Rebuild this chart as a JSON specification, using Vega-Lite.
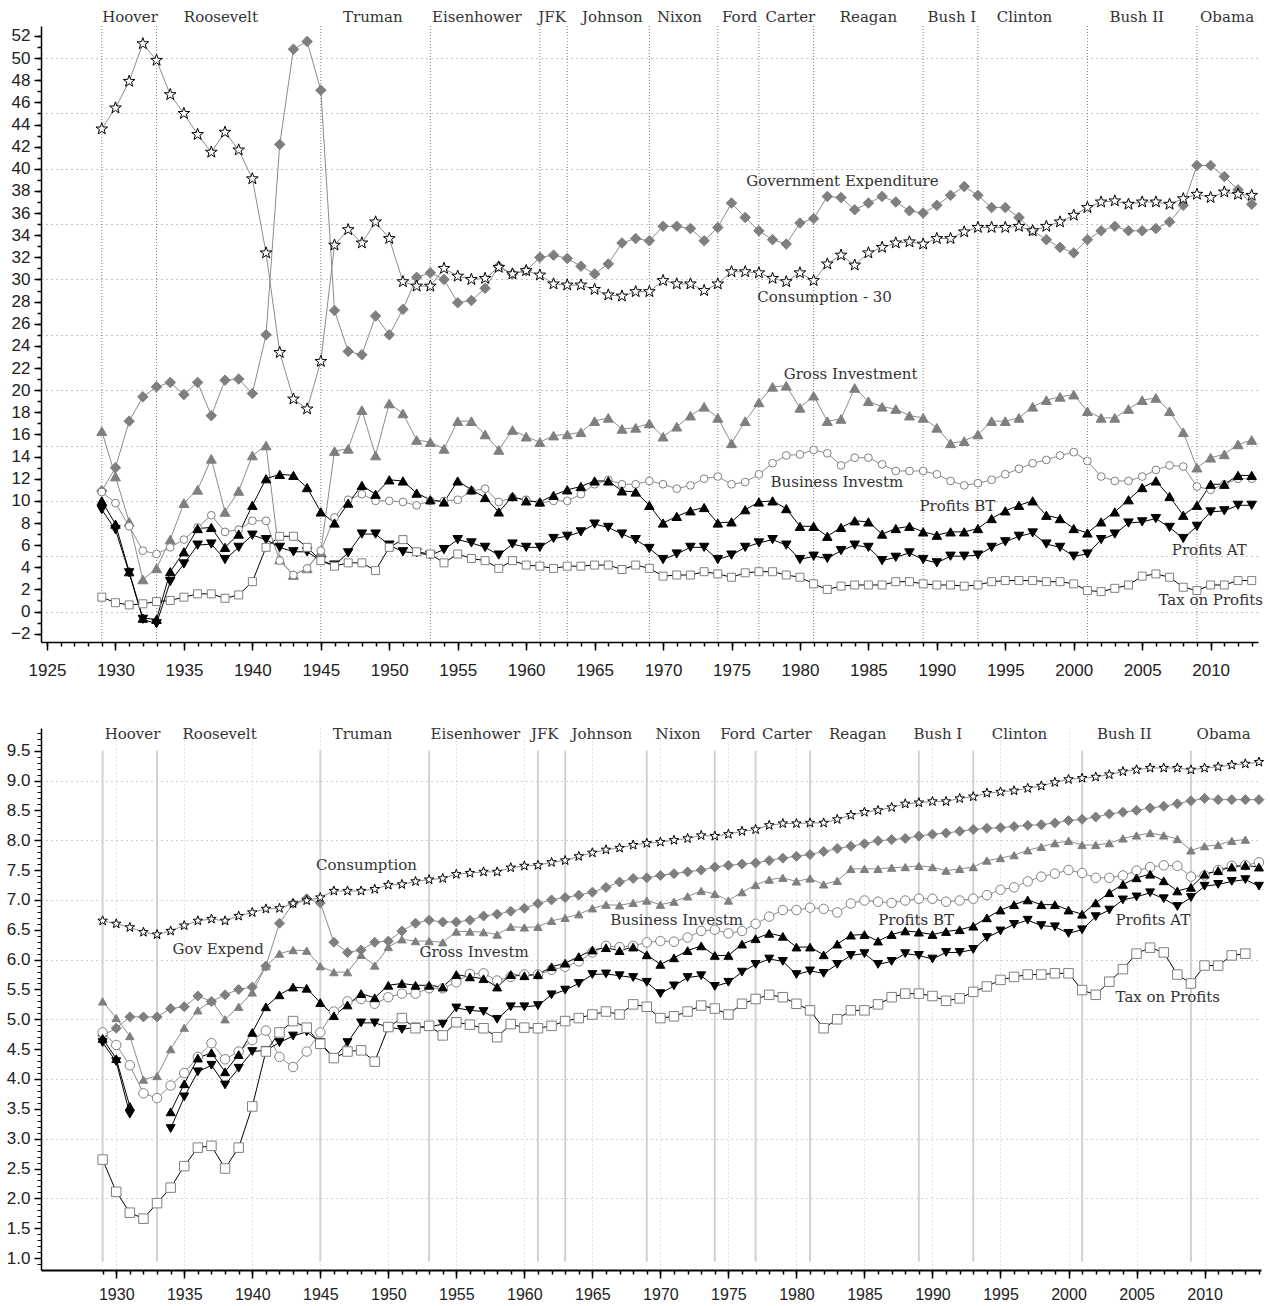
{
"$schema":"https://vega.github.io/schema/vega-lite/v6.json",
"padding":{"left":6,"top":10,"right":2,"bottom":0},
"background":"white",
"config":{"view":{"stroke":null},"axis":{"labelFont":"Liberation Sans","labelFontSize":17,"labelColor":"#222","domainColor":"#000","tickColor":"#000","grid":false}},
"datasets":{
"pres":[{"yr":1929},{"yr":1933},{"yr":1945},{"yr":1953},{"yr":1961},{"yr":1963},{"yr":1969},{"yr":1974},{"yr":1977},{"yr":1981},{"yr":1989},{"yr":1993},{"yr":2001},{"yr":2009}],
"ptop":[{"n":"Hoover","yr":1931.06,"v":53.7},{"n":"Roosevelt","yr":1937.7,"v":53.7},{"n":"Truman","yr":1948.8,"v":53.7},{"n":"Eisenhower","yr":1956.4,"v":53.7},{"n":"JFK","yr":1961.9,"v":53.7},{"n":"Johnson","yr":1966.3,"v":53.7},{"n":"Nixon","yr":1971.2,"v":53.7},{"n":"Ford","yr":1975.6,"v":53.7},{"n":"Carter","yr":1979.3,"v":53.7},{"n":"Reagan","yr":1985.0,"v":53.7},{"n":"Bush I","yr":1991.1,"v":53.7},{"n":"Clinton","yr":1996.4,"v":53.7},{"n":"Bush II","yr":2004.6,"v":53.7},{"n":"Obama","yr":2011.2,"v":53.7}],
"pbot":[{"n":"Hoover","yr":1931.2,"v":9.78},{"n":"Roosevelt","yr":1937.6,"v":9.78},{"n":"Truman","yr":1948.1,"v":9.78},{"n":"Eisenhower","yr":1956.4,"v":9.78},{"n":"JFK","yr":1961.5,"v":9.78},{"n":"Johnson","yr":1965.7,"v":9.78},{"n":"Nixon","yr":1971.3,"v":9.78},{"n":"Ford","yr":1975.7,"v":9.78},{"n":"Carter","yr":1979.3,"v":9.78},{"n":"Reagan","yr":1984.5,"v":9.78},{"n":"Bush I","yr":1990.4,"v":9.78},{"n":"Clinton","yr":1996.4,"v":9.78},{"n":"Bush II","yr":2004.1,"v":9.78},{"n":"Obama","yr":2011.4,"v":9.78}],
"ltop":[{"t":"Government Expenditure","yr":1983.1,"v":38.9},{"t":"Consumption - 30","yr":1981.8,"v":28.45},{"t":"Gross Investment","yr":1983.7,"v":21.5},{"t":"Business Investm","yr":1982.7,"v":11.7},{"t":"Profits BT","yr":1991.5,"v":9.5},{"t":"Profits AT","yr":2009.9,"v":5.6},{"t":"Tax on Profits","yr":2010.0,"v":1.0}],
"lbot":[{"t":"Consumption","yr":1948.4,"v":7.58},{"t":"Gov Expend","yr":1937.5,"v":6.17},{"t":"Gross Investm","yr":1956.3,"v":6.12},{"t":"Business Investm","yr":1971.2,"v":6.67},{"t":"Profits BT","yr":1988.8,"v":6.67},{"t":"Profits AT","yr":2006.2,"v":6.67},{"t":"Tax on Profits","yr":2007.3,"v":5.37}],
"top":[
{"yr":1929,"GE":10.9,"C":43.6,"GI":16.3,"BI":10.8,"PBT":10.0,"PAT":9.2,"TAX":1.3},
{"yr":1930,"GE":13.0,"C":45.5,"GI":12.2,"BI":9.8,"PBT":7.9,"PAT":7.4,"TAX":0.8},
{"yr":1931,"GE":17.2,"C":47.9,"GI":8.1,"BI":7.7,"PBT":3.6,"PAT":3.5,"TAX":0.6},
{"yr":1932,"GE":19.4,"C":51.3,"GI":2.9,"BI":5.5,"PBT":-0.6,"PAT":-0.7,"TAX":0.7},
{"yr":1933,"GE":20.3,"C":49.8,"GI":3.9,"BI":5.2,"PBT":-0.7,"PAT":-1.1,"TAX":0.9},
{"yr":1934,"GE":20.7,"C":46.7,"GI":6.5,"BI":5.8,"PBT":3.6,"PAT":2.7,"TAX":1.0},
{"yr":1935,"GE":19.6,"C":45.0,"GI":9.8,"BI":6.5,"PBT":5.4,"PAT":4.3,"TAX":1.3},
{"yr":1936,"GE":20.7,"C":43.1,"GI":11.0,"BI":7.6,"PBT":7.5,"PAT":6.0,"TAX":1.6},
{"yr":1937,"GE":17.7,"C":41.5,"GI":13.8,"BI":8.7,"PBT":7.6,"PAT":6.1,"TAX":1.6},
{"yr":1938,"GE":20.9,"C":43.3,"GI":9.0,"BI":7.2,"PBT":5.8,"PAT":4.7,"TAX":1.2},
{"yr":1939,"GE":21.0,"C":41.7,"GI":10.9,"BI":7.4,"PBT":7.0,"PAT":5.8,"TAX":1.5},
{"yr":1940,"GE":19.7,"C":39.1,"GI":14.1,"BI":8.2,"PBT":9.6,"PAT":6.9,"TAX":2.7},
{"yr":1941,"GE":25.0,"C":32.4,"GI":15.0,"BI":8.2,"PBT":12.0,"PAT":6.5,"TAX":5.8},
{"yr":1942,"GE":42.2,"C":23.4,"GI":4.7,"BI":4.6,"PBT":12.4,"PAT":5.8,"TAX":6.8},
{"yr":1943,"GE":50.8,"C":19.2,"GI":3.3,"BI":3.3,"PBT":12.3,"PAT":5.4,"TAX":6.8},
{"yr":1944,"GE":51.5,"C":18.3,"GI":3.9,"BI":3.9,"PBT":11.2,"PAT":5.4,"TAX":5.8},
{"yr":1945,"GE":47.1,"C":22.6,"GI":5.4,"BI":5.5,"PBT":9.0,"PAT":4.6,"TAX":4.6},
{"yr":1946,"GE":27.2,"C":33.1,"GI":14.5,"BI":8.5,"PBT":8.0,"PAT":4.2,"TAX":4.1},
{"yr":1947,"GE":23.5,"C":34.5,"GI":14.7,"BI":10.1,"PBT":9.8,"PAT":5.3,"TAX":4.4},
{"yr":1948,"GE":23.2,"C":33.3,"GI":18.2,"BI":10.6,"PBT":11.4,"PAT":7.0,"TAX":4.4},
{"yr":1949,"GE":26.7,"C":35.2,"GI":14.1,"BI":10.0,"PBT":10.6,"PAT":7.0,"TAX":3.7},
{"yr":1950,"GE":25.0,"C":33.7,"GI":18.8,"BI":10.0,"PBT":11.9,"PAT":6.0,"TAX":5.8},
{"yr":1951,"GE":27.3,"C":29.8,"GI":17.9,"BI":9.9,"PBT":11.8,"PAT":5.4,"TAX":6.5},
{"yr":1952,"GE":30.2,"C":29.4,"GI":15.5,"BI":9.6,"PBT":10.7,"PAT":5.3,"TAX":5.4},
{"yr":1953,"GE":30.6,"C":29.4,"GI":15.3,"BI":10.0,"PBT":10.1,"PAT":5.1,"TAX":5.2},
{"yr":1954,"GE":30.0,"C":31.0,"GI":14.7,"BI":10.0,"PBT":9.9,"PAT":5.6,"TAX":4.4},
{"yr":1955,"GE":27.9,"C":30.3,"GI":17.2,"BI":10.1,"PBT":11.8,"PAT":6.5,"TAX":5.2},
{"yr":1956,"GE":28.1,"C":30.0,"GI":17.2,"BI":10.9,"PBT":11.0,"PAT":6.2,"TAX":4.8},
{"yr":1957,"GE":29.2,"C":30.1,"GI":16.0,"BI":11.1,"PBT":10.3,"PAT":5.8,"TAX":4.6},
{"yr":1958,"GE":31.2,"C":31.1,"GI":14.6,"BI":9.9,"PBT":9.0,"PAT":5.1,"TAX":3.9},
{"yr":1959,"GE":30.5,"C":30.5,"GI":16.4,"BI":10.3,"PBT":10.4,"PAT":6.1,"TAX":4.6},
{"yr":1960,"GE":30.8,"C":30.8,"GI":15.8,"BI":10.1,"PBT":10.0,"PAT":5.8,"TAX":4.2},
{"yr":1961,"GE":32.0,"C":30.4,"GI":15.3,"BI":9.8,"PBT":9.9,"PAT":5.8,"TAX":4.1},
{"yr":1962,"GE":32.2,"C":29.6,"GI":15.9,"BI":10.0,"PBT":10.5,"PAT":6.6,"TAX":3.9},
{"yr":1963,"GE":31.9,"C":29.5,"GI":16.0,"BI":10.0,"PBT":11.0,"PAT":6.8,"TAX":4.1},
{"yr":1964,"GE":31.2,"C":29.5,"GI":16.2,"BI":10.6,"PBT":11.3,"PAT":7.2,"TAX":4.1},
{"yr":1965,"GE":30.5,"C":29.1,"GI":17.2,"BI":11.5,"PBT":11.8,"PAT":7.9,"TAX":4.2},
{"yr":1966,"GE":31.4,"C":28.6,"GI":17.5,"BI":11.9,"PBT":11.8,"PAT":7.6,"TAX":4.2},
{"yr":1967,"GE":33.3,"C":28.5,"GI":16.5,"BI":11.5,"PBT":10.9,"PAT":7.0,"TAX":3.8},
{"yr":1968,"GE":33.7,"C":28.9,"GI":16.6,"BI":11.5,"PBT":10.8,"PAT":6.5,"TAX":4.2},
{"yr":1969,"GE":33.5,"C":28.9,"GI":17.0,"BI":11.8,"PBT":9.6,"PAT":5.7,"TAX":3.9},
{"yr":1970,"GE":34.8,"C":29.9,"GI":15.8,"BI":11.5,"PBT":8.0,"PAT":4.7,"TAX":3.2},
{"yr":1971,"GE":34.8,"C":29.6,"GI":16.7,"BI":11.1,"PBT":8.6,"PAT":5.2,"TAX":3.3},
{"yr":1972,"GE":34.6,"C":29.6,"GI":17.7,"BI":11.4,"PBT":9.1,"PAT":5.8,"TAX":3.3},
{"yr":1973,"GE":33.5,"C":29.0,"GI":18.5,"BI":12.0,"PBT":9.4,"PAT":5.8,"TAX":3.6},
{"yr":1974,"GE":34.7,"C":29.6,"GI":17.5,"BI":12.2,"PBT":8.0,"PAT":4.7,"TAX":3.4},
{"yr":1975,"GE":36.9,"C":30.7,"GI":15.2,"BI":11.5,"PBT":8.1,"PAT":5.1,"TAX":3.1},
{"yr":1976,"GE":35.6,"C":30.7,"GI":17.2,"BI":11.7,"PBT":9.2,"PAT":5.8,"TAX":3.5},
{"yr":1977,"GE":34.4,"C":30.6,"GI":18.9,"BI":12.4,"PBT":9.9,"PAT":6.2,"TAX":3.6},
{"yr":1978,"GE":33.6,"C":30.1,"GI":20.3,"BI":13.4,"PBT":10.0,"PAT":6.5,"TAX":3.6},
{"yr":1979,"GE":33.2,"C":29.8,"GI":20.4,"BI":14.1,"PBT":9.3,"PAT":6.0,"TAX":3.3},
{"yr":1980,"GE":35.1,"C":30.6,"GI":18.4,"BI":14.2,"PBT":7.7,"PAT":4.7,"TAX":3.1},
{"yr":1981,"GE":35.5,"C":29.9,"GI":19.5,"BI":14.6,"PBT":7.7,"PAT":5.0,"TAX":2.5},
{"yr":1982,"GE":37.5,"C":31.4,"GI":17.2,"BI":14.3,"PBT":6.8,"PAT":4.8,"TAX":2.0},
{"yr":1983,"GE":37.4,"C":32.2,"GI":17.4,"BI":13.2,"PBT":7.6,"PAT":5.5,"TAX":2.3},
{"yr":1984,"GE":36.3,"C":31.3,"GI":20.2,"BI":13.9,"PBT":8.2,"PAT":6.0,"TAX":2.4},
{"yr":1985,"GE":36.9,"C":32.4,"GI":19.0,"BI":13.9,"PBT":8.1,"PAT":5.8,"TAX":2.4},
{"yr":1986,"GE":37.5,"C":32.9,"GI":18.5,"BI":13.3,"PBT":7.0,"PAT":4.6,"TAX":2.4},
{"yr":1987,"GE":37.0,"C":33.3,"GI":18.3,"BI":12.7,"PBT":7.5,"PAT":4.9,"TAX":2.7},
{"yr":1988,"GE":36.2,"C":33.4,"GI":17.7,"BI":12.7,"PBT":7.7,"PAT":5.3,"TAX":2.7},
{"yr":1989,"GE":36.0,"C":33.2,"GI":17.5,"BI":12.7,"PBT":7.2,"PAT":4.7,"TAX":2.5},
{"yr":1990,"GE":36.7,"C":33.7,"GI":16.6,"BI":12.4,"PBT":6.9,"PAT":4.4,"TAX":2.4},
{"yr":1991,"GE":37.6,"C":33.7,"GI":15.2,"BI":11.8,"PBT":7.2,"PAT":5.0,"TAX":2.4},
{"yr":1992,"GE":38.4,"C":34.3,"GI":15.4,"BI":11.4,"PBT":7.2,"PAT":5.0,"TAX":2.3},
{"yr":1993,"GE":37.6,"C":34.7,"GI":16.0,"BI":11.6,"PBT":7.5,"PAT":5.1,"TAX":2.4},
{"yr":1994,"GE":36.5,"C":34.7,"GI":17.2,"BI":11.9,"PBT":8.4,"PAT":5.8,"TAX":2.7},
{"yr":1995,"GE":36.5,"C":34.7,"GI":17.2,"BI":12.4,"PBT":9.1,"PAT":6.3,"TAX":2.8},
{"yr":1996,"GE":35.6,"C":34.8,"GI":17.5,"BI":12.9,"PBT":9.6,"PAT":6.8,"TAX":2.8},
{"yr":1997,"GE":34.4,"C":34.4,"GI":18.5,"BI":13.4,"PBT":10.0,"PAT":7.1,"TAX":2.8},
{"yr":1998,"GE":33.6,"C":34.8,"GI":19.1,"BI":13.7,"PBT":8.7,"PAT":6.1,"TAX":2.7},
{"yr":1999,"GE":32.9,"C":35.2,"GI":19.4,"BI":14.1,"PBT":8.4,"PAT":5.8,"TAX":2.7},
{"yr":2000,"GE":32.4,"C":35.8,"GI":19.6,"BI":14.4,"PBT":7.5,"PAT":5.0,"TAX":2.5},
{"yr":2001,"GE":33.6,"C":36.5,"GI":18.1,"BI":13.6,"PBT":7.1,"PAT":5.2,"TAX":1.9},
{"yr":2002,"GE":34.4,"C":37.0,"GI":17.5,"BI":12.2,"PBT":8.1,"PAT":6.5,"TAX":1.8},
{"yr":2003,"GE":34.8,"C":37.1,"GI":17.5,"BI":11.8,"PBT":9.0,"PAT":7.0,"TAX":2.1},
{"yr":2004,"GE":34.4,"C":36.8,"GI":18.3,"BI":11.8,"PBT":10.1,"PAT":8.0,"TAX":2.4},
{"yr":2005,"GE":34.4,"C":37.0,"GI":19.1,"BI":12.2,"PBT":11.2,"PAT":8.1,"TAX":3.2},
{"yr":2006,"GE":34.6,"C":37.0,"GI":19.3,"BI":12.8,"PBT":11.8,"PAT":8.4,"TAX":3.4},
{"yr":2007,"GE":35.2,"C":36.8,"GI":18.1,"BI":13.2,"PBT":10.4,"PAT":7.6,"TAX":3.1},
{"yr":2008,"GE":36.7,"C":37.3,"GI":16.2,"BI":13.1,"PBT":8.7,"PAT":6.6,"TAX":2.2},
{"yr":2009,"GE":40.3,"C":37.7,"GI":13.0,"BI":11.3,"PBT":9.6,"PAT":7.7,"TAX":1.9},
{"yr":2010,"GE":40.3,"C":37.4,"GI":13.9,"BI":11.0,"PBT":11.5,"PAT":9.0,"TAX":2.4},
{"yr":2011,"GE":39.3,"C":37.9,"GI":14.2,"BI":11.5,"PBT":11.5,"PAT":9.1,"TAX":2.4},
{"yr":2012,"GE":38.1,"C":37.7,"GI":15.1,"BI":12.0,"PBT":12.3,"PAT":9.6,"TAX":2.8},
{"yr":2013,"GE":36.8,"C":37.6,"GI":15.5,"BI":12.0,"PBT":12.3,"PAT":9.6,"TAX":2.8}
],
"bot":[
{"yr":1929,"C":6.65,"GE":4.73,"GI":5.30,"BI":4.78,"PBT":4.68,"PAT":4.61,"TAX":2.65},
{"yr":1930,"C":6.60,"GE":4.85,"GI":5.02,"BI":4.57,"PBT":4.34,"PAT":4.29,"TAX":2.11},
{"yr":1931,"C":6.54,"GE":5.04,"GI":4.72,"BI":4.23,"PBT":3.54,"PAT":3.41,"TAX":1.76},
{"yr":1932,"C":6.46,"GE":5.04,"GI":3.99,"BI":3.76,"PBT":null,"PAT":null,"TAX":1.66},
{"yr":1933,"C":6.42,"GE":5.04,"GI":4.05,"BI":3.68,"PBT":null,"PAT":null,"TAX":1.92},
{"yr":1934,"C":6.48,"GE":5.18,"GI":4.50,"BI":3.89,"PBT":3.45,"PAT":3.17,"TAX":2.18},
{"yr":1935,"C":6.57,"GE":5.21,"GI":4.86,"BI":4.10,"PBT":3.92,"PAT":3.70,"TAX":2.54},
{"yr":1936,"C":6.65,"GE":5.39,"GI":5.15,"BI":4.37,"PBT":4.35,"PAT":4.12,"TAX":2.85},
{"yr":1937,"C":6.68,"GE":5.30,"GI":5.31,"BI":4.60,"PBT":4.44,"PAT":4.23,"TAX":2.88},
{"yr":1938,"C":6.65,"GE":5.41,"GI":5.00,"BI":4.33,"PBT":4.12,"PAT":3.90,"TAX":2.50},
{"yr":1939,"C":6.73,"GE":5.50,"GI":5.21,"BI":4.46,"PBT":4.41,"PAT":4.18,"TAX":2.85},
{"yr":1940,"C":6.79,"GE":5.54,"GI":5.45,"BI":4.65,"PBT":4.78,"PAT":4.46,"TAX":3.54},
{"yr":1941,"C":6.85,"GE":5.89,"GI":5.89,"BI":4.81,"PBT":5.21,"PAT":4.48,"TAX":4.46},
{"yr":1942,"C":6.86,"GE":6.61,"GI":6.10,"BI":4.37,"PBT":5.41,"PAT":4.61,"TAX":4.78},
{"yr":1943,"C":6.94,"GE":6.94,"GI":6.16,"BI":4.20,"PBT":5.54,"PAT":4.72,"TAX":4.97},
{"yr":1944,"C":6.99,"GE":7.02,"GI":6.15,"BI":4.46,"PBT":5.52,"PAT":4.79,"TAX":4.86},
{"yr":1945,"C":7.04,"GE":6.95,"GI":5.89,"BI":4.78,"PBT":5.28,"PAT":4.61,"TAX":4.59},
{"yr":1946,"C":7.15,"GE":6.29,"GI":5.79,"BI":5.13,"PBT":5.06,"PAT":4.35,"TAX":4.35},
{"yr":1947,"C":7.15,"GE":6.12,"GI":5.79,"BI":5.30,"PBT":5.24,"PAT":4.61,"TAX":4.46},
{"yr":1948,"C":7.15,"GE":6.16,"GI":6.08,"BI":5.34,"PBT":5.43,"PAT":4.94,"TAX":4.48},
{"yr":1949,"C":7.18,"GE":6.29,"GI":5.90,"BI":5.26,"PBT":5.36,"PAT":4.94,"TAX":4.29},
{"yr":1950,"C":7.25,"GE":6.31,"GI":6.21,"BI":5.37,"PBT":5.57,"PAT":4.87,"TAX":4.87},
{"yr":1951,"C":7.26,"GE":6.48,"GI":6.34,"BI":5.43,"PBT":5.60,"PAT":4.83,"TAX":5.02},
{"yr":1952,"C":7.31,"GE":6.61,"GI":6.31,"BI":5.43,"PBT":5.57,"PAT":4.87,"TAX":4.85},
{"yr":1953,"C":7.34,"GE":6.66,"GI":6.31,"BI":5.52,"PBT":5.57,"PAT":4.87,"TAX":4.89},
{"yr":1954,"C":7.36,"GE":6.63,"GI":6.29,"BI":5.52,"PBT":5.54,"PAT":4.92,"TAX":4.73},
{"yr":1955,"C":7.43,"GE":6.63,"GI":6.47,"BI":5.62,"PBT":5.75,"PAT":5.19,"TAX":4.95},
{"yr":1956,"C":7.45,"GE":6.66,"GI":6.47,"BI":5.76,"PBT":5.71,"PAT":5.15,"TAX":4.91},
{"yr":1957,"C":7.47,"GE":6.73,"GI":6.46,"BI":5.77,"PBT":5.68,"PAT":5.13,"TAX":4.85},
{"yr":1958,"C":7.47,"GE":6.76,"GI":6.42,"BI":5.65,"PBT":5.54,"PAT":5.00,"TAX":4.70},
{"yr":1959,"C":7.54,"GE":6.81,"GI":6.55,"BI":5.71,"PBT":5.75,"PAT":5.21,"TAX":4.92},
{"yr":1960,"C":7.57,"GE":6.86,"GI":6.54,"BI":5.75,"PBT":5.73,"PAT":5.21,"TAX":4.86},
{"yr":1961,"C":7.58,"GE":6.94,"GI":6.55,"BI":5.75,"PBT":5.75,"PAT":5.23,"TAX":4.85},
{"yr":1962,"C":7.63,"GE":7.00,"GI":6.65,"BI":5.83,"PBT":5.88,"PAT":5.41,"TAX":4.89},
{"yr":1963,"C":7.66,"GE":7.04,"GI":6.70,"BI":5.88,"PBT":5.94,"PAT":5.49,"TAX":4.97},
{"yr":1964,"C":7.73,"GE":7.08,"GI":6.76,"BI":5.97,"PBT":6.05,"PAT":5.60,"TAX":5.02},
{"yr":1965,"C":7.79,"GE":7.13,"GI":6.86,"BI":6.12,"PBT":6.16,"PAT":5.75,"TAX":5.08},
{"yr":1966,"C":7.84,"GE":7.21,"GI":6.92,"BI":6.23,"PBT":6.20,"PAT":5.76,"TAX":5.13},
{"yr":1967,"C":7.87,"GE":7.30,"GI":6.91,"BI":6.21,"PBT":6.15,"PAT":5.73,"TAX":5.08},
{"yr":1968,"C":7.92,"GE":7.36,"GI":6.95,"BI":6.23,"PBT":6.21,"PAT":5.70,"TAX":5.25},
{"yr":1969,"C":7.95,"GE":7.37,"GI":6.99,"BI":6.29,"PBT":6.08,"PAT":5.62,"TAX":5.21},
{"yr":1970,"C":7.97,"GE":7.41,"GI":6.92,"BI":6.31,"PBT":5.92,"PAT":5.43,"TAX":5.02},
{"yr":1971,"C":8.00,"GE":7.44,"GI":6.97,"BI":6.30,"PBT":6.03,"PAT":5.56,"TAX":5.05},
{"yr":1972,"C":8.03,"GE":7.47,"GI":7.06,"BI":6.37,"PBT":6.15,"PAT":5.70,"TAX":5.13},
{"yr":1973,"C":8.08,"GE":7.50,"GI":7.15,"BI":6.48,"PBT":6.23,"PAT":5.73,"TAX":5.23},
{"yr":1974,"C":8.07,"GE":7.55,"GI":7.10,"BI":6.50,"PBT":6.07,"PAT":5.55,"TAX":5.18},
{"yr":1975,"C":8.10,"GE":7.58,"GI":6.99,"BI":6.44,"PBT":6.07,"PAT":5.62,"TAX":5.08},
{"yr":1976,"C":8.15,"GE":7.60,"GI":7.13,"BI":6.48,"PBT":6.26,"PAT":5.79,"TAX":5.26},
{"yr":1977,"C":8.18,"GE":7.62,"GI":7.25,"BI":6.60,"PBT":6.35,"PAT":5.92,"TAX":5.34},
{"yr":1978,"C":8.25,"GE":7.66,"GI":7.34,"BI":6.72,"PBT":6.44,"PAT":6.01,"TAX":5.41},
{"yr":1979,"C":8.28,"GE":7.70,"GI":7.37,"BI":6.83,"PBT":6.39,"PAT":5.97,"TAX":5.37},
{"yr":1980,"C":8.28,"GE":7.73,"GI":7.31,"BI":6.83,"PBT":6.21,"PAT":5.75,"TAX":5.26},
{"yr":1981,"C":8.29,"GE":7.76,"GI":7.36,"BI":6.87,"PBT":6.21,"PAT":5.81,"TAX":5.15},
{"yr":1982,"C":8.29,"GE":7.81,"GI":7.26,"BI":6.85,"PBT":6.08,"PAT":5.77,"TAX":4.85},
{"yr":1983,"C":8.35,"GE":7.86,"GI":7.32,"BI":6.79,"PBT":6.26,"PAT":5.92,"TAX":5.00},
{"yr":1984,"C":8.42,"GE":7.90,"GI":7.52,"BI":6.94,"PBT":6.41,"PAT":6.07,"TAX":5.15},
{"yr":1985,"C":8.47,"GE":7.94,"GI":7.52,"BI":6.99,"PBT":6.42,"PAT":6.10,"TAX":5.15},
{"yr":1986,"C":8.50,"GE":7.99,"GI":7.52,"BI":6.97,"PBT":6.31,"PAT":5.92,"TAX":5.25},
{"yr":1987,"C":8.55,"GE":8.01,"GI":7.54,"BI":6.95,"PBT":6.42,"PAT":5.97,"TAX":5.37},
{"yr":1988,"C":8.61,"GE":8.03,"GI":7.55,"BI":6.99,"PBT":6.48,"PAT":6.10,"TAX":5.43},
{"yr":1989,"C":8.63,"GE":8.07,"GI":7.57,"BI":7.02,"PBT":6.46,"PAT":6.07,"TAX":5.43},
{"yr":1990,"C":8.65,"GE":8.10,"GI":7.55,"BI":7.02,"PBT":6.42,"PAT":6.01,"TAX":5.39},
{"yr":1991,"C":8.65,"GE":8.12,"GI":7.49,"BI":6.97,"PBT":6.47,"PAT":6.12,"TAX":5.31},
{"yr":1992,"C":8.70,"GE":8.15,"GI":7.52,"BI":6.99,"PBT":6.50,"PAT":6.12,"TAX":5.35},
{"yr":1993,"C":8.73,"GE":8.18,"GI":7.55,"BI":7.02,"PBT":6.56,"PAT":6.17,"TAX":5.46},
{"yr":1994,"C":8.79,"GE":8.20,"GI":7.66,"BI":7.08,"PBT":6.70,"PAT":6.37,"TAX":5.55},
{"yr":1995,"C":8.81,"GE":8.21,"GI":7.70,"BI":7.17,"PBT":6.83,"PAT":6.48,"TAX":5.66},
{"yr":1996,"C":8.83,"GE":8.23,"GI":7.75,"BI":7.21,"PBT":6.92,"PAT":6.59,"TAX":5.71},
{"yr":1997,"C":8.87,"GE":8.25,"GI":7.83,"BI":7.31,"PBT":7.00,"PAT":6.66,"TAX":5.75},
{"yr":1998,"C":8.91,"GE":8.26,"GI":7.89,"BI":7.39,"PBT":6.92,"PAT":6.57,"TAX":5.75},
{"yr":1999,"C":8.97,"GE":8.29,"GI":7.95,"BI":7.44,"PBT":6.92,"PAT":6.55,"TAX":5.77},
{"yr":2000,"C":9.02,"GE":8.33,"GI":7.99,"BI":7.50,"PBT":6.83,"PAT":6.44,"TAX":5.77},
{"yr":2001,"C":9.04,"GE":8.35,"GI":7.92,"BI":7.45,"PBT":6.76,"PAT":6.50,"TAX":5.49},
{"yr":2002,"C":9.06,"GE":8.39,"GI":7.92,"BI":7.37,"PBT":6.95,"PAT":6.72,"TAX":5.41},
{"yr":2003,"C":9.10,"GE":8.44,"GI":7.95,"BI":7.37,"PBT":7.12,"PAT":6.83,"TAX":5.63},
{"yr":2004,"C":9.15,"GE":8.47,"GI":8.03,"BI":7.41,"PBT":7.26,"PAT":7.00,"TAX":5.84},
{"yr":2005,"C":9.18,"GE":8.50,"GI":8.08,"BI":7.49,"PBT":7.37,"PAT":7.05,"TAX":6.10},
{"yr":2006,"C":9.21,"GE":8.54,"GI":8.12,"BI":7.55,"PBT":7.43,"PAT":7.12,"TAX":6.20},
{"yr":2007,"C":9.21,"GE":8.57,"GI":8.08,"BI":7.58,"PBT":7.32,"PAT":7.02,"TAX":6.12},
{"yr":2008,"C":9.21,"GE":8.61,"GI":8.02,"BI":7.57,"PBT":7.15,"PAT":6.89,"TAX":5.75},
{"yr":2009,"C":9.18,"GE":8.66,"GI":7.83,"BI":7.39,"PBT":7.21,"PAT":7.04,"TAX":5.60},
{"yr":2010,"C":9.21,"GE":8.70,"GI":7.90,"BI":7.41,"PBT":7.43,"PAT":7.23,"TAX":5.90},
{"yr":2011,"C":9.23,"GE":8.68,"GI":7.92,"BI":7.50,"PBT":7.49,"PAT":7.26,"TAX":5.90},
{"yr":2012,"C":9.26,"GE":8.68,"GI":7.99,"BI":7.57,"PBT":7.55,"PAT":7.31,"TAX":6.07},
{"yr":2013,"C":9.28,"GE":8.68,"GI":8.01,"BI":7.58,"PBT":7.58,"PAT":7.34,"TAX":6.10},
{"yr":2014,"C":9.31,"GE":8.68,"GI":null,"BI":7.63,"PBT":7.55,"PAT":7.23,"TAX":null}
]
},
"spacing":48,
"resolve":{"scale":{"x":"independent","y":"independent","color":"independent","fill":"independent","stroke":"independent","shape":"independent","size":"independent"}},
"vconcat":[
{
"width":1217,"height":616,
"resolve":{"axis":{"x":"independent","y":"independent"}},
"layer":[
{"data":{"name":"pres"},"mark":{"type":"rule","color":"#7a7a7a","strokeDash":[1,2],"strokeWidth":1},
 "encoding":{"x":{"field":"yr","type":"quantitative","scale":{"domain":[1924.56,2013.46],"nice":false,"zero":false},"axis":null}}},
{"data":{"name":"ltop"},"mark":{"type":"text","font":"DejaVu Serif","fontSize":15,"color":"#333"},
 "encoding":{"x":{"field":"yr","type":"quantitative","scale":{"domain":[1924.56,2013.46],"nice":false,"zero":false},"axis":null},
 "y":{"field":"v","type":"quantitative","scale":{"domain":[-2.75,52.9],"nice":false,"zero":false},"axis":{"orient":"left","values":[0,5,10,15,20,25,30,35,40,45,50],"grid":true,"gridDash":[1,4],"gridColor":"#8a8a8a","gridWidth":1,"labels":false,"ticks":false,"domain":false,"title":null}},
 "text":{"field":"t"}}},
{"data":{"name":"top"},"transform":[{"fold":["GE","C","GI","BI","PBT","PAT","TAX"],"as":["s","v"]}],
 "mark":{"type":"line","strokeWidth":1,"invalid":"break-paths-show-domains"},
 "encoding":{"x":{"field":"yr","type":"quantitative","scale":{"domain":[1924.56,2013.46],"nice":false,"zero":false},"axis":{"orient":"bottom","values":[1925,1930,1935,1940,1945,1950,1955,1960,1965,1970,1975,1980,1985,1990,1995,2000,2005,2010],"format":"d","tickSize":8,"tickWidth":1.5,"domainWidth":1.5,"labelPadding":12,"labelFlush":false,"labelOverlap":false,"title":null}},
 "y":{"field":"v","type":"quantitative","scale":{"domain":[-2.75,52.9],"nice":false,"zero":false},"axis":{"orient":"left","values":[-2,0,2,4,6,8,10,12,14,16,18,20,22,24,26,28,30,32,34,36,38,40,42,44,46,48,50,52],"format":"d","tickSize":7,"tickWidth":1.5,"domainWidth":1.5,"labelPadding":4,"labelFlush":false,"labelOverlap":false,"title":null}},
 "color":{"field":"s","type":"nominal","scale":{"domain":["GE","C","GI","BI","PBT","PAT","TAX"],"range":["#8c8c8c","#8c8c8c","#8c8c8c","#8c8c8c","#000000","#000000","#000000"]},"legend":null},
 "order":{"field":"yr","type":"quantitative"}}},
{"data":{"name":"top"},"transform":[{"fold":["GE","C","GI","BI","PBT","PAT","TAX"],"as":["s","v"]}],
 "mark":{"type":"point","filled":true,"opacity":1,"strokeWidth":1,"invalid":"filter"},
 "encoding":{"x":{"field":"yr","type":"quantitative","scale":{"domain":[1924.56,2013.46],"nice":false,"zero":false},"axis":{"orient":"bottom","values":[1925,1926,1927,1928,1929,1930,1931,1932,1933,1934,1935,1936,1937,1938,1939,1940,1941,1942,1943,1944,1945,1946,1947,1948,1949,1950,1951,1952,1953,1954,1955,1956,1957,1958,1959,1960,1961,1962,1963,1964,1965,1966,1967,1968,1969,1970,1971,1972,1973,1974,1975,1976,1977,1978,1979,1980,1981,1982,1983,1984,1985,1986,1987,1988,1989,1990,1991,1992,1993,1994,1995,1996,1997,1998,1999,2000,2001,2002,2003,2004,2005,2006,2007,2008,2009,2010,2011,2012,2013],"tickSize":4,"tickWidth":1.5,"labels":false,"domain":false,"title":null}},
 "y":{"field":"v","type":"quantitative","scale":{"domain":[-2.75,52.9],"nice":false,"zero":false},"axis":{"orient":"left","values":[-2,-1,0,1,2,3,4,5,6,7,8,9,10,11,12,13,14,15,16,17,18,19,20,21,22,23,24,25,26,27,28,29,30,31,32,33,34,35,36,37,38,39,40,41,42,43,44,45,46,47,48,49,50,51,52],"tickSize":4,"tickWidth":1.5,"labels":false,"domain":false,"title":null}},
 "shape":{"field":"s","type":"nominal","scale":{"domain":["GE","C","GI","BI","PBT","PAT","TAX"],"range":["diamond","M0,-1L0.235,-0.324L0.951,-0.309L0.38,0.124L0.588,0.809L0,0.4L-0.588,0.809L-0.38,0.124L-0.951,-0.309L-0.235,-0.324Z","triangle-up","circle","triangle-up","triangle-down","square"]},"legend":null},
 "fill":{"field":"s","type":"nominal","scale":{"domain":["GE","C","GI","BI","PBT","PAT","TAX"],"range":["#7f7f7f","#ffffff","#7f7f7f","#ffffff","#000000","#000000","#ffffff"]},"legend":null},
 "stroke":{"field":"s","type":"nominal","scale":{"domain":["GE","C","GI","BI","PBT","PAT","TAX"],"range":["#7f7f7f","#000000","#7f7f7f","#7f7f7f","#000000","#000000","#7f7f7f"]},"legend":null},
 "size":{"field":"s","type":"nominal","scale":{"type":"ordinal","domain":["GE","C","GI","BI","PBT","PAT","TAX"],"range":[110,150,100,60,90,90,64]},"legend":null}}},
{"data":{"name":"ptop"},"mark":{"type":"text","font":"DejaVu Serif","fontSize":15,"color":"#333"},
 "encoding":{"x":{"field":"yr","type":"quantitative","scale":{"domain":[1924.56,2013.46],"nice":false,"zero":false},"axis":null},
 "y":{"field":"v","type":"quantitative","scale":{"domain":[-2.75,52.9],"nice":false,"zero":false},"axis":null},
 "text":{"field":"n"}}}
]
},
{
"width":1220,"height":542,
"resolve":{"axis":{"x":"independent","y":"independent"}},
"layer":[
{"data":{"name":"pres"},"mark":{"type":"rule","color":"#d2d2d2","strokeWidth":2},
 "encoding":{"x":{"field":"yr","type":"quantitative","scale":{"domain":[1924.47,2014.15],"nice":false,"zero":false},"axis":null},
 "y":{"datum":9.5,"type":"quantitative","scale":{"domain":[0.8,9.88],"nice":false,"zero":false},"axis":null},"y2":{"datum":0.94}}},
{"data":{"name":"lbot"},"mark":{"type":"text","font":"DejaVu Serif","fontSize":15,"color":"#333"},
 "encoding":{"x":{"field":"yr","type":"quantitative","scale":{"domain":[1924.47,2014.15],"nice":false,"zero":false},"axis":null},
 "y":{"field":"v","type":"quantitative","scale":{"domain":[0.8,9.88],"nice":false,"zero":false},"axis":{"orient":"left","values":[2,3,4,5,6,7,8,9],"grid":true,"gridDash":[1,4],"gridColor":"#a0a0a0","gridWidth":1,"labels":false,"ticks":false,"domain":false,"title":null}},
 "text":{"field":"t"}}},
{"data":{"name":"bot"},"transform":[{"fold":["GE","C","GI","BI","PBT","PAT","TAX"],"as":["s","v"]}],
 "mark":{"type":"line","strokeWidth":1,"invalid":"break-paths-show-domains"},
 "encoding":{"x":{"field":"yr","type":"quantitative","scale":{"domain":[1924.47,2014.15],"nice":false,"zero":false},"axis":{"orient":"bottom","values":[1930,1935,1940,1945,1950,1955,1960,1965,1970,1975,1980,1985,1990,1995,2000,2005,2010],"format":"d","tickSize":8,"tickWidth":1.5,"domainWidth":2,"labelPadding":8,"labelFontSize":16,"labelFlush":false,"labelOverlap":false,"grid":true,"gridDash":[1,3],"gridColor":"#cfcfcf","gridWidth":1,"title":null}},
 "y":{"field":"v","type":"quantitative","scale":{"domain":[0.8,9.88],"nice":false,"zero":false},"axis":{"orient":"left","values":[1,1.5,2,2.5,3,3.5,4,4.5,5,5.5,6,6.5,7,7.5,8,8.5,9,9.5],"format":".1f","tickSize":7,"tickWidth":1.5,"domainWidth":1.5,"labelPadding":4,"labelFlush":false,"labelOverlap":false,"title":null}},
 "color":{"field":"s","type":"nominal","scale":{"domain":["GE","C","GI","BI","PBT","PAT","TAX"],"range":["#8c8c8c","#8c8c8c","#8c8c8c","#8c8c8c","#000000","#000000","#000000"]},"legend":null},
 "order":{"field":"yr","type":"quantitative"}}},
{"data":{"name":"bot"},"transform":[{"fold":["GE","C","GI","BI","PBT","PAT","TAX"],"as":["s","v"]}],
 "mark":{"type":"point","filled":true,"opacity":1,"strokeWidth":1,"invalid":"filter"},
 "encoding":{"x":{"field":"yr","type":"quantitative","scale":{"domain":[1924.47,2014.15],"nice":false,"zero":false},"axis":{"orient":"bottom","values":[1929,1930,1931,1932,1933,1934,1935,1936,1937,1938,1939,1940,1941,1942,1943,1944,1945,1946,1947,1948,1949,1950,1951,1952,1953,1954,1955,1956,1957,1958,1959,1960,1961,1962,1963,1964,1965,1966,1967,1968,1969,1970,1971,1972,1973,1974,1975,1976,1977,1978,1979,1980,1981,1982,1983,1984,1985,1986,1987,1988,1989,1990,1991,1992,1993,1994,1995,1996,1997,1998,1999,2000,2001,2002,2003,2004,2005,2006,2007,2008,2009,2010,2011,2012,2013,2014],"tickSize":4,"tickWidth":1.5,"labels":false,"domain":false,"title":null}},
 "y":{"field":"v","type":"quantitative","scale":{"domain":[0.8,9.88],"nice":false,"zero":false},"axis":{"orient":"left","values":[0.9,1,1.1,1.2,1.3,1.4,1.5,1.6,1.7,1.8,1.9,2,2.1,2.2,2.3,2.4,2.5,2.6,2.7,2.8,2.9,3,3.1,3.2,3.3,3.4,3.5,3.6,3.7,3.8,3.9,4,4.1,4.2,4.3,4.4,4.5,4.6,4.7,4.8,4.9,5,5.1,5.2,5.3,5.4,5.5,5.6,5.7,5.8,5.9,6,6.1,6.2,6.3,6.4,6.5,6.6,6.7,6.8,6.9,7,7.1,7.2,7.3,7.4,7.5,7.6,7.7,7.8,7.9,8,8.1,8.2,8.3,8.4,8.5,8.6,8.7,8.8,8.9,9,9.1,9.2,9.3,9.4,9.5,9.6,9.7,9.8],"tickSize":4,"tickWidth":1,"labels":false,"domain":false,"title":null}},
 "shape":{"field":"s","type":"nominal","scale":{"domain":["GE","C","GI","BI","PBT","PAT","TAX"],"range":["diamond","M0,-1L0.235,-0.324L0.951,-0.309L0.38,0.124L0.588,0.809L0,0.4L-0.588,0.809L-0.38,0.124L-0.951,-0.309L-0.235,-0.324Z","triangle-up","circle","triangle-up","triangle-down","square"]},"legend":null},
 "fill":{"field":"s","type":"nominal","scale":{"domain":["GE","C","GI","BI","PBT","PAT","TAX"],"range":["#7f7f7f","#ffffff","#7f7f7f","#ffffff","#000000","#000000","#ffffff"]},"legend":null},
 "stroke":{"field":"s","type":"nominal","scale":{"domain":["GE","C","GI","BI","PBT","PAT","TAX"],"range":["#7f7f7f","#000000","#7f7f7f","#7f7f7f","#000000","#000000","#7f7f7f"]},"legend":null},
 "size":{"field":"s","type":"nominal","scale":{"type":"ordinal","domain":["GE","C","GI","BI","PBT","PAT","TAX"],"range":[100,100,70,90,80,80,90]},"legend":null}}},
{"data":{"name":"pbot"},"mark":{"type":"text","font":"DejaVu Serif","fontSize":15,"color":"#333"},
 "encoding":{"x":{"field":"yr","type":"quantitative","scale":{"domain":[1924.47,2014.15],"nice":false,"zero":false},"axis":null},
 "y":{"field":"v","type":"quantitative","scale":{"domain":[0.8,9.88],"nice":false,"zero":false},"axis":null},
 "text":{"field":"n"}}}
]
}
]
}
